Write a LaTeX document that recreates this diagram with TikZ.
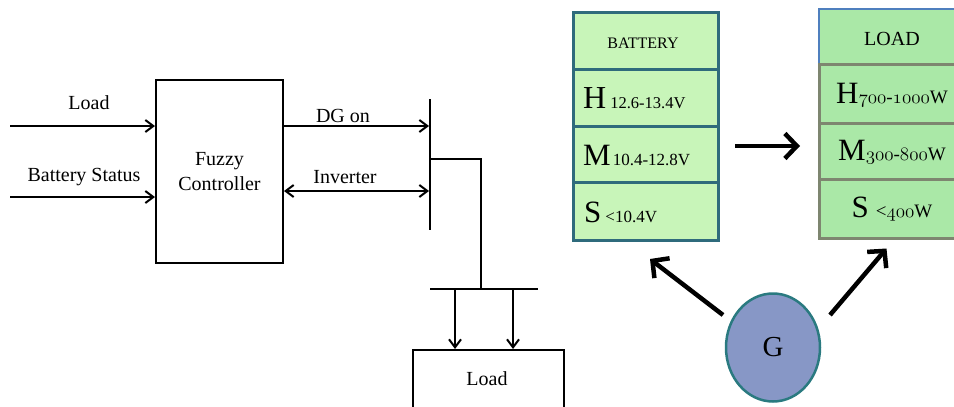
\RequirePackage{fix-cm}
\documentclass[tikz,border=0pt]{standalone}
\usepackage{fontspec}
\setmainfont{Liberation Serif}
\usetikzlibrary{arrows.meta,shapes.geometric}
\definecolor{batfill}{HTML}{C8F5B9}
\definecolor{batline}{HTML}{2F6B7C}
\definecolor{loadfill}{HTML}{AAE8A7}
\definecolor{loadhead}{HTML}{4F7FBE}
\definecolor{loadline}{HTML}{7E8670}
\definecolor{gfill}{HTML}{8797C6}
\definecolor{gline}{HTML}{2A7A80}
\newcommand\osn[1]{{\fontencoding{OML}\fontfamily{cmm}\fontseries{m}\fontshape{it}\selectfont #1}}
\begin{document}
\begin{tikzpicture}[x=1pt,y=-1pt,
  blk/.style={draw,line width=2pt},
  wire/.style={line width=2pt},
  sarr/.style={wire,-{Straight Barb[length=8pt,width=12pt]}},
  darr/.style={wire,{Straight Barb[length=8pt,width=12pt]}-{Straight Barb[length=8pt,width=12pt]}},
  barr/.style={line width=4.5pt,-{Straight Barb[length=12pt,width=25pt]}},
  lbl/.style={font=\fontsize{20}{25}\selectfont,inner sep=0pt},
  batrow/.style={draw=batline,fill=batfill,line width=3pt,minimum width=145pt,inner sep=0pt,anchor=north west},
  loadrow/.style={draw=loadline,fill=loadfill,line width=3pt,minimum width=148pt,inner sep=0pt,anchor=north west},
  rowtxt/.style={inner sep=0pt,anchor=base west}
]
\useasboundingbox (0,0) rectangle (954,407);
\clip (0,0) rectangle (954,407);

% ---------- left block diagram ----------
\node[blk,minimum width=127pt,minimum height=183pt,align=center,font=\fontsize{20}{25}\selectfont] (fc) at (219.5,171.5) {Fuzzy\\Controller};

\coordinate (inL) at (10,126);
\coordinate (inB) at (10,197);
\draw[sarr] (inL) -- (inL -| fc.west);
\draw[sarr] (inB) -- (inB -| fc.west);
\node[lbl] (tL) at (89,103) {Load};
\node[lbl] (tB) at (84,177) {Battery Status};

\coordinate (busT) at (430,99);
\coordinate (busB) at (430,230);
\draw[wire] (busT) -- (busB);

\coordinate (dg) at (429,126);
\draw[sarr] (fc.east |- dg) -- (dg);
\node[lbl] (tDG) at (343,116) {DG on};

\coordinate (inv) at (429,191);
\draw[darr] (fc.east |- inv) -- (inv);
\node[lbl] (tInv) at (345,177) {Inverter};

\coordinate (br) at (430,159);
\coordinate (jn) at (481,289);
\draw[wire] (br) -| (jn);
\coordinate (barL) at (430,289);
\coordinate (barR) at (538,289);
\draw[wire] (barL) -- (barR);

\node[blk,minimum width=151pt,minimum height=80pt,anchor=north west] (ld) at (412,349) {};
\node[lbl] (tLd) at (487,379) {Load};
\coordinate (a1) at (455,289);
\coordinate (a2) at (513,289);
\draw[sarr] (a1) -- (a1 |- ld.north);
\draw[sarr] (a2) -- (a2 |- ld.north);

% ---------- battery table ----------
\node[batrow,minimum height=57pt] (bHd) at (572,11) {};
\node[batrow,minimum height=57pt] (bH) at (572,68) {};
\node[batrow,minimum height=56pt] (bM) at (572,125) {};
\node[batrow,minimum height=58pt] (bS) at (572,181) {};
\node[inner sep=0pt,anchor=base,font=\fontsize{16}{18}\selectfont] (tBat) at (643,48) {BATTERY};
\node[rowtxt] (tbH) at (583,108) {{\fontsize{32}{36}\selectfont H}\hspace{4pt}{\fontsize{16.5}{18}\selectfont 12.6-13.4V}};
\node[rowtxt] (tbM) at (583,165) {{\fontsize{31}{36}\selectfont M}\hspace{2pt}{\fontsize{17}{18}\selectfont 10.4-12.8V}};
\node[rowtxt] (tbS) at (584,222) {{\fontsize{31}{36}\selectfont S}\hspace{4pt}{\fontsize{17}{18}\selectfont <10.4V}};

% ---------- load table ----------
\node[draw=loadhead,fill=loadfill,line width=1.5pt,minimum width=148pt,minimum height=55pt,inner sep=0pt,anchor=north west] (lHd) at (818,8) {};
\node[loadrow,minimum height=59pt] (lH) at (818,63) {};
\node[loadrow,minimum height=56pt] (lM) at (818,122) {};
\node[loadrow,minimum height=59pt] (lS) at (818,178) {};
\node[inner sep=0pt,anchor=base,font=\fontsize{20}{24}\selectfont] (tLoad) at (892,45) {LOAD};
\node[inner sep=0pt,anchor=base] (tlH) at (892,103) {{\fontsize{31}{36}\selectfont H}{\fontsize{19}{20}\selectfont\osn{700}-\osn{1000}W}};
\node[inner sep=0pt,anchor=base] (tlM) at (892,160) {{\fontsize{31}{36}\selectfont M}{\fontsize{19}{20}\selectfont\osn{300}-\osn{800}W}};
\node[inner sep=0pt,anchor=base] (tlS) at (892,217) {{\fontsize{31}{36}\selectfont S}\hspace{7pt}{\fontsize{19}{20}\selectfont <\osn{400}W}};

% ---------- arrows and generator ----------
\coordinate (m1) at (735,146);
\coordinate (m2) at (800,146);
\draw[barr] (m1) -- (m2);

\node[ellipse,draw=gline,fill=gfill,line width=2.5pt,minimum width=94pt,minimum height=108pt,inner sep=0pt,font=\fontsize{29}{34}\selectfont] (G) at (773,347.5) {G};
\coordinate (gl) at (723,315);
\coordinate (tlft) at (650,259);
\coordinate (gr) at (830,315);
\coordinate (trgt) at (886.5,248.5);
\draw[barr] (gl) -- (tlft);
\draw[barr] (gr) -- (trgt);
\end{tikzpicture}
\end{document}
